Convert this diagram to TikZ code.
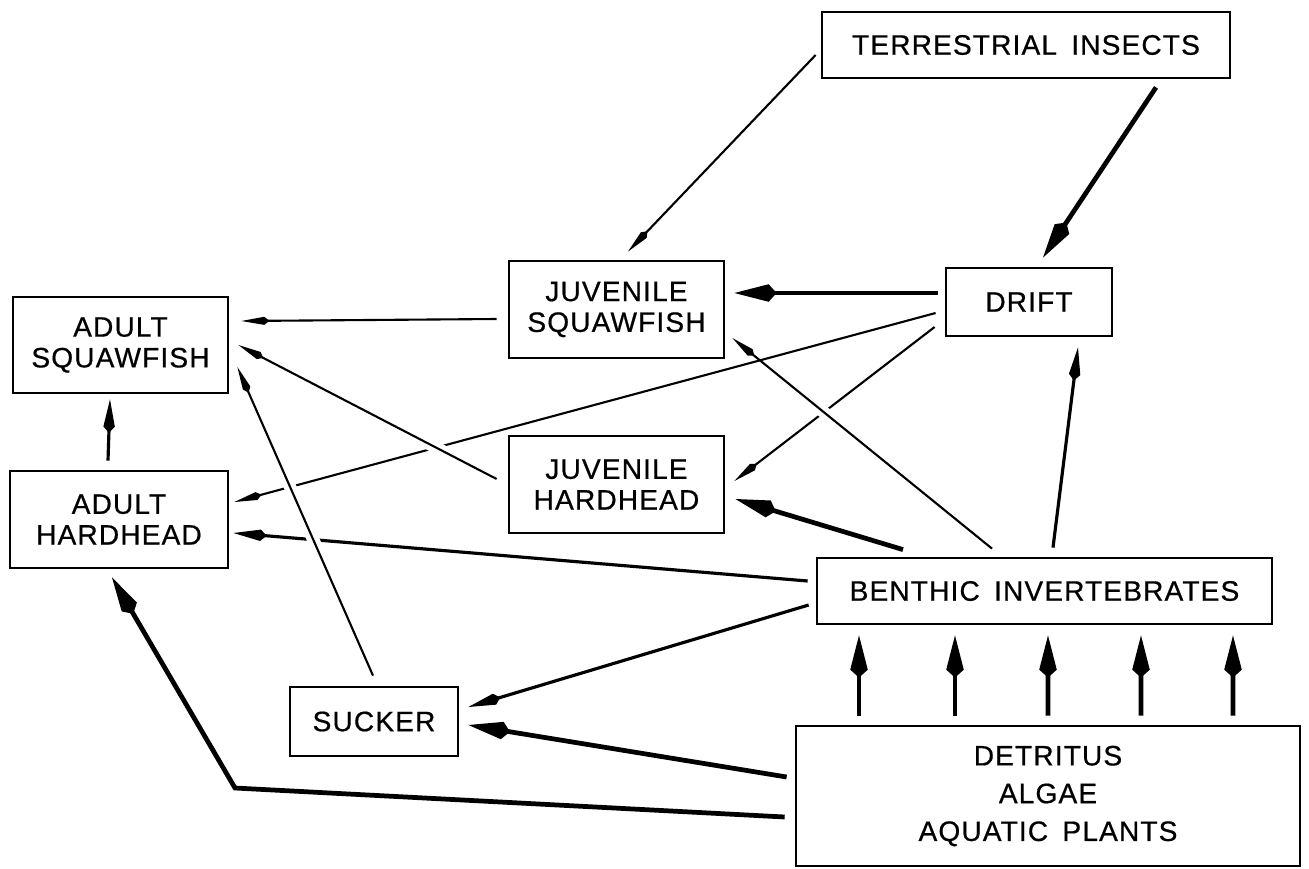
\documentclass[tikz,border=0pt]{standalone}
\usepackage{fontspec}
\usetikzlibrary{arrows.meta}
\newfontfamily\lblfont{Liberation Sans}[LetterSpace=4, WordSpace=1.6, FakeBold=0.6]
\begin{document}
\begin{tikzpicture}[x=0.02cm, y=-0.02cm,
  box/.style={draw, line width=1.6pt, inner sep=0pt, align=center, font=\lblfont\fontsize{16}{17.5}\selectfont},
  thinarr/.style={line width=1.2pt, -{Kite[length=16pt,width=4.6pt,inset=3pt]}},
  medarr/.style={line width=1.8pt, -{Kite[length=19pt,width=6.5pt,inset=3.5pt]}},
  thickarr/.style={line width=2.7pt, -{Kite[length=24pt,width=10pt,inset=4.5pt]}},
  halo/.style={preaction={draw=white, line width=7pt, -, shorten <=25pt, shorten >=32pt}}
]
\useasboundingbox (0,0) rectangle (1309,869);
% boxes
\node[box, minimum width=8.16cm, minimum height=1.32cm] (TI) at (1026,45) {TERRESTRIAL INSECTS};
\node[box, minimum width=3.32cm, minimum height=1.36cm] (DR) at (1029,302) {DRIFT};
\node[box, minimum width=4.3cm, minimum height=1.94cm] (JS) at (616.5,309.5) {JUVENILE\\SQUAWFISH};
\node[box, minimum width=4.3cm, minimum height=1.94cm] (JH) at (616.5,484.5) {JUVENILE\\HARDHEAD};
\node[box, minimum width=4.3cm, minimum height=1.92cm] (AS) at (120.5,345) {ADULT\\SQUAWFISH};
\node[box, minimum width=4.36cm, minimum height=1.94cm] (AH) at (119,519.5) {ADULT\\HARDHEAD};
\node[box, minimum width=9.1cm, minimum height=1.32cm] (BI) at (1044.5,591) {BENTHIC INVERTEBRATES};
\node[box, minimum width=10.08cm, minimum height=2.8cm, font=\lblfont\fontsize{16}{21.5}\selectfont] (DAP) at (1048,796) {DETRITUS\\ALGAE\\AQUATIC PLANTS};
\node[box, minimum width=3.36cm, minimum height=1.38cm] (SK) at (374,721.5) {SUCKER};
\coordinate (bend) at (235,788);

% lines that are broken at crossings (drawn first)
\draw[thinarr] ([shift={(-9,11)}]DR.west) -- ([shift={(5,-17.5)}]AH.east);
\draw[thinarr] ([shift={(-10,25)}]DR.west) -- ([shift={(9,-3.5)}]JH.east);
\draw[medarr] ([shift={(-8,-10)}]BI.west) -- ([shift={(4,13.5)}]AH.east);

% lines drawn over them
\draw[thinarr, halo] ([shift={(-52.5,-8)}]BI.north) -- ([shift={(7,28.5)}]JS.east);
\draw[thinarr, halo] ([shift={(-11,-5.5)}]JH.west) -- ([shift={(9,0)}]AS.east);
\draw[thinarr, halo] ([shift={(-1,-10)}]SK.north) -- ([shift={(8,22)}]AS.east);

% other connectors
\draw[thinarr] ([shift={(-5,10)}]TI.west) -- ([shift={(11.5,-8)}]JS.north);
\draw[thickarr] ([shift={(130,8)}]TI.south) -- ([shift={(14,-9)}]DR.north);
\draw[thickarr] ([shift={(-7,-9)}]DR.west) -- ([shift={(9,-16.5)}]JS.east);
\draw[thinarr] ([shift={(-11,9.5)}]JS.west) -- ([shift={(12,-24)}]AS.east);
\draw[medarr] ([shift={(-11,-9)}]AH.north) -- ([shift={(-10.5,5)}]AS.south);
\draw[thickarr] ([shift={(-141.5,-7)}]BI.north) -- ([shift={(10,14.5)}]JH.east);
\draw[medarr] ([shift={(8.5,-9)}]BI.north) -- ([shift={(49,10)}]DR.south);
\draw[medarr] ([shift={(-7,14)}]BI.west) -- ([shift={(9,-14.5)}]SK.east);
\draw[thickarr] ([shift={(-8,-19)}]DAP.west) -- ([shift={(9,3.5)}]SK.east);
\draw[thickarr] ([shift={(-10,21)}]DAP.west) -- (bend) -- ([shift={(-7,8)}]AH.south);

% detritus -> benthic invertebrates
\draw[thickarr] ([shift={(-189,-9)}]DAP.north) -- ([shift={(-185.5,10)}]BI.south);
\draw[thickarr] ([shift={(-93,-9)}]DAP.north) -- ([shift={(-89.5,10)}]BI.south);
\draw[thickarr] ([shift={(0,-9)}]DAP.north) -- ([shift={(3.5,10)}]BI.south);
\draw[thickarr] ([shift={(93,-9)}]DAP.north) -- ([shift={(96.5,10)}]BI.south);
\draw[thickarr] ([shift={(185,-9)}]DAP.north) -- ([shift={(188.5,10)}]BI.south);
\end{tikzpicture}
\end{document}
